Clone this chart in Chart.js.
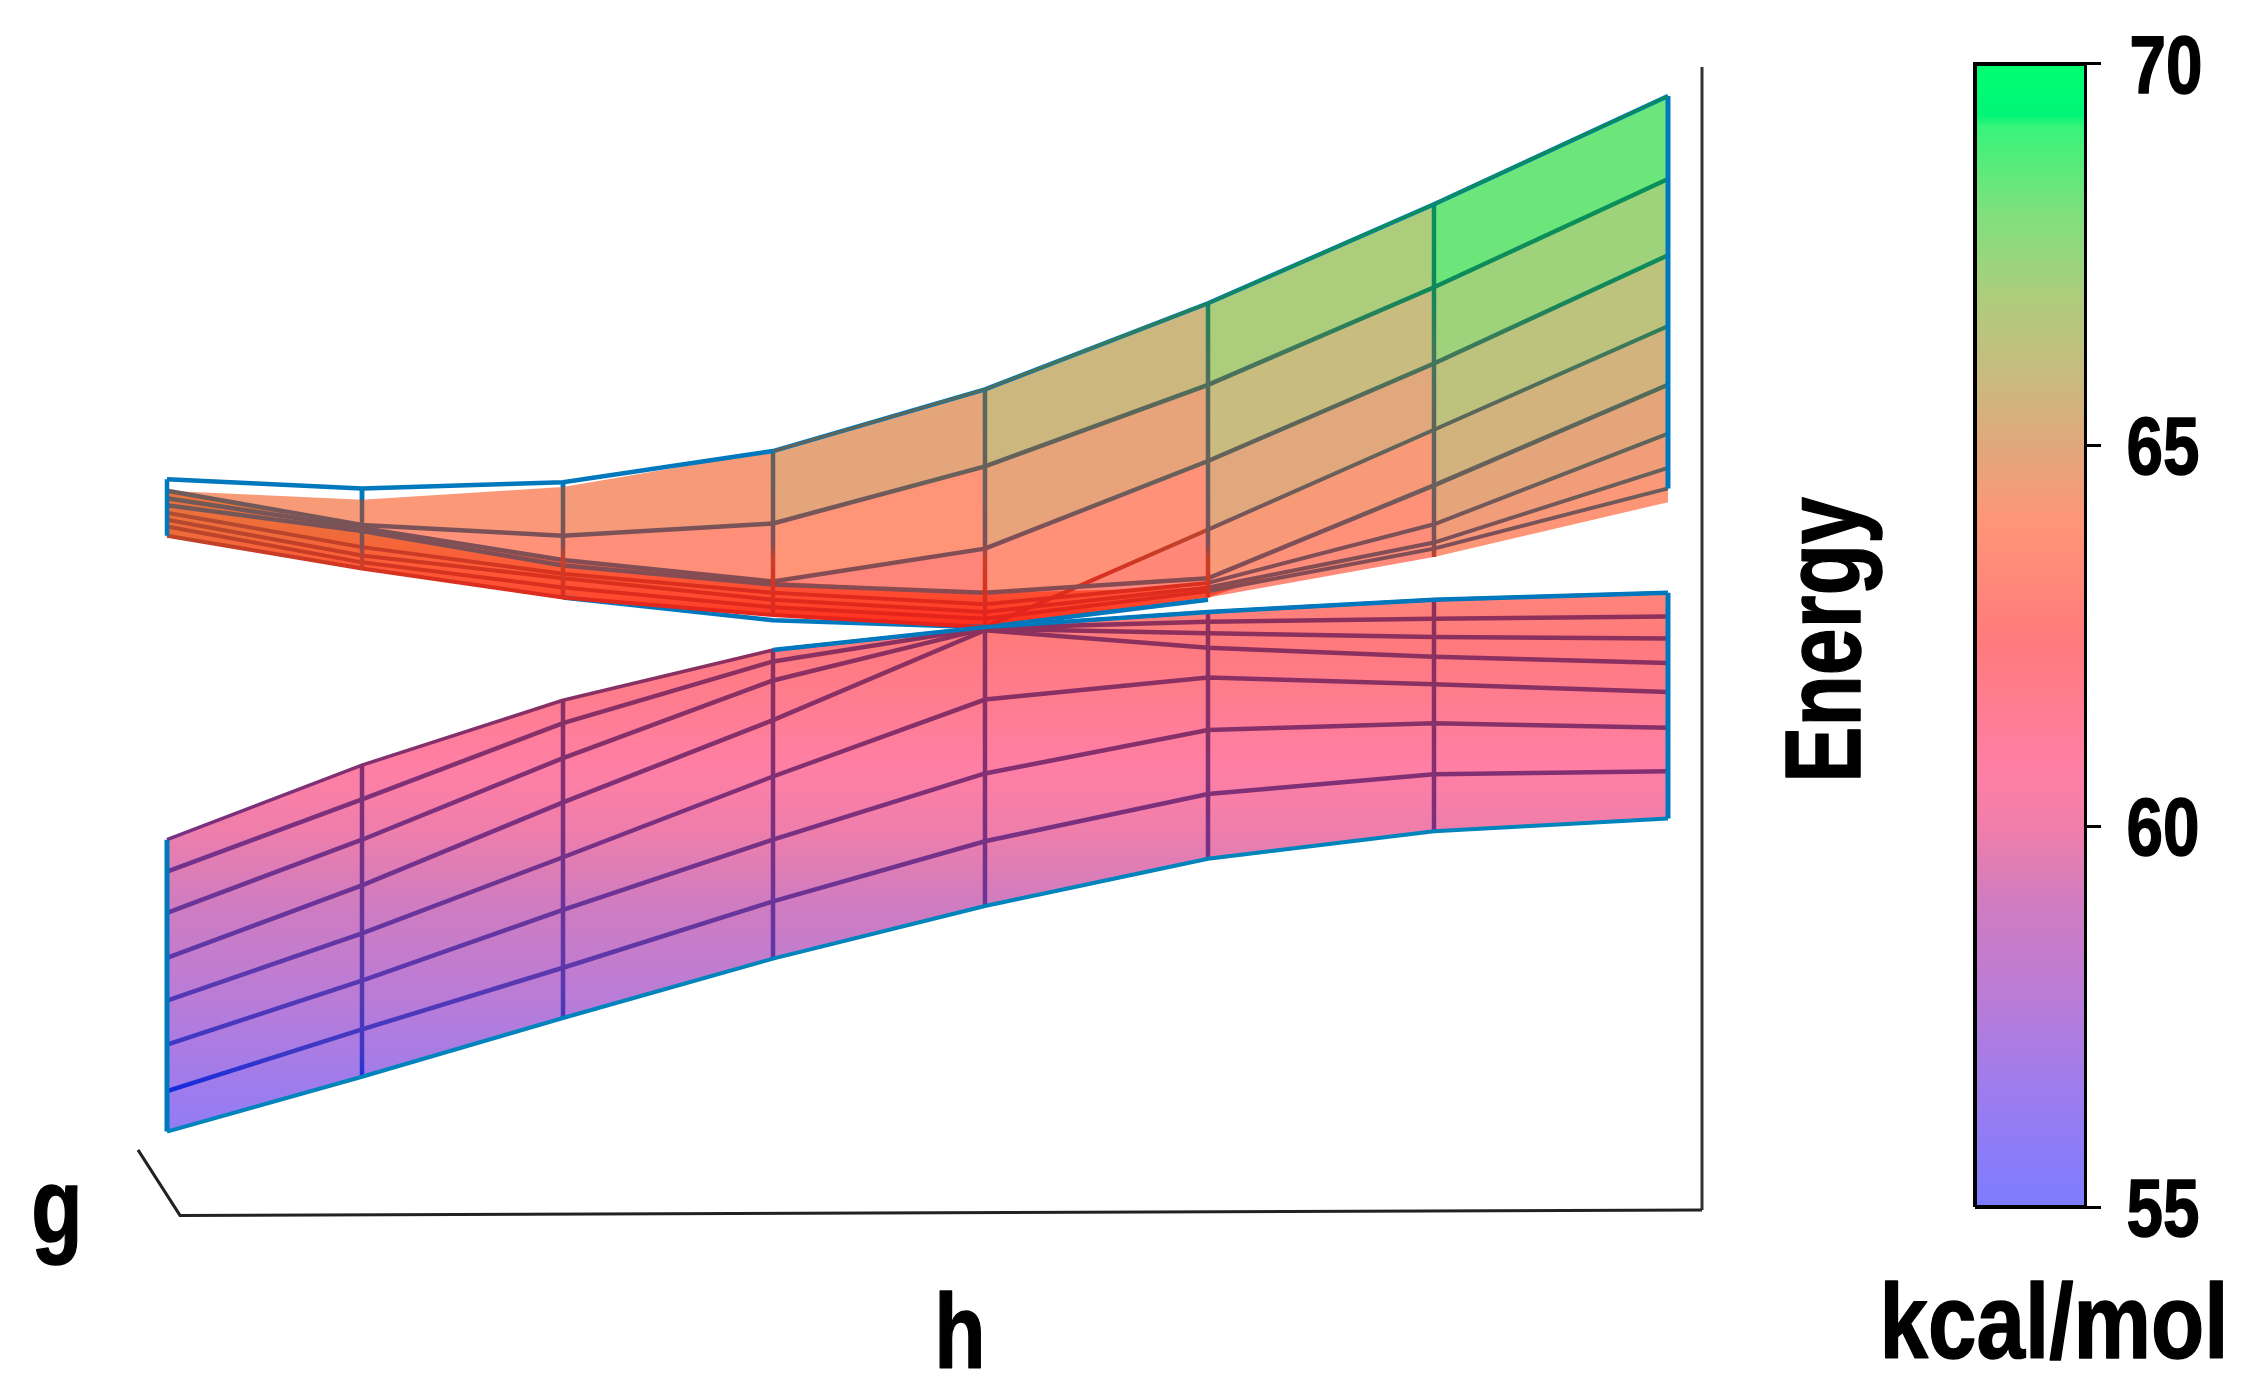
<!DOCTYPE html>
<html>
<head>
<meta charset="utf-8">
<style>html,body{margin:0;padding:0;background:#fff}canvas{display:block}</style>
<script src="https://cdn.jsdelivr.net/npm/chart.js@4"></script>
</head>
<body>
<canvas id="c" width="2248" height="1394"></canvas>
<script>
// --- data (energies in kcal/mol) ---
const hValues = [-0.819,-0.624,-0.423,-0.213,-0.001,0.222,0.448,0.682];
const upperEdge  = [64.55,64.43,64.51,64.92,65.73,66.86,68.16,69.58];
const upperFillTop=[64.40,64.28,64.45,64.92,65.73,66.86,68.16,69.58];
const upperFillBot=[63.81,63.38,63.00,62.77,62.61,63.00,63.53,64.25];
const upperRow1 = [64.40,63.95,63.81,63.97,64.72,65.79,67.07,68.49];
const upperRow2 = [64.30,63.91,63.49,63.21,63.64,64.79,66.07,67.49];
const upperRow3 = [63.81,63.38,63.00,62.77,62.61,63.89,65.20,66.56];
const upperRow4 = [64.21,63.87,63.42,63.17,63.06,63.25,64.47,65.79];
const upperRow5 = [64.11,63.66,63.31,63.06,62.91,63.19,63.96,65.15];
const upperRow6 = [64.02,63.55,63.25,62.97,62.81,63.13,63.72,64.70];
const upperRow7 = [63.93,63.46,63.13,62.87,62.72,63.08,63.64,64.43];
const stripH = [-0.819,-0.624,-0.423,-0.213,-0.001,0.222,0.284];
const stripTop = [64.40,63.91,63.49,63.21,63.06,63.13,63.27];
const stripBot = [63.81,63.38,63.00,62.77,62.61,63.00,63.27];
const seamH = [-0.423,-0.213,-0.001,0.222];
const seam = [63.00,62.70,62.61,62.97];
const lowerRow0 = [59.82,60.80,61.65,62.31,62.61,62.81,62.97,63.06];
const lowerRow1 = [59.40,60.35,61.35,62.16,62.60,62.68,62.72,62.75];
const lowerRow2 = [58.86,59.82,60.89,61.91,62.59,62.53,62.48,62.46];
const lowerRow3 = [58.27,59.22,60.31,61.39,62.57,62.34,62.22,62.14];
const lowerRow4 = [57.71,58.59,59.59,60.65,61.66,61.95,61.86,61.76];
const lowerRow5 = [57.13,57.97,58.90,59.82,60.69,61.26,61.35,61.29];
const lowerRow6 = [56.52,57.33,58.14,59.01,59.80,60.42,60.68,60.72];
const lowerRow7 = [55.99,56.71,57.48,58.26,58.95,59.57,59.93,60.10];
const axisFloorH = [-0.848,-0.806,0.716];
const axisFloorE = [55.75,54.89,54.96];
const axisWallH = [0.716,0.716];
const axisWallE = [54.96,69.96];
const barH = [0.989,1.100];
const tickValues = [55,60,65,70];
const labelTexts = {g:"g", h:"h", energy:"Energy", unit:"kcal/mol"};

// --- colours ---
const surfaceStops = [[70,'#00ff70'],[69.3,'#00f578'],[69.15,'#38f47a'],[68,'#80e07c'],[66.9,'#aecc7c'],[66,'#c6bd7e'],[65,'#e0a87c'],[63.96,'#ff9577'],[62.43,'#ff7a7c'],[60.76,'#ff7fa5'],[60,'#f07eaa'],[59,'#d07cc0'],[57.7,'#b87cd8'],[56.4,'#9a7cf0'],[55,'#7c7cff']];
const stripStops = [[64.5,'#e8783a'],[63.8,'#f06a3a'],[63.4,'#ff5a38'],[63.0,'#ff4a30'],[62.6,'#ff2a18']];
const rowStops = [[70,'#078a58'],[68,'#0a9058'],[67,'#10885a'],[66.2,'#40785a'],[65.5,'#58685a'],[64.5,'#6a5f5a'],[63.8,'#7d5058'],[63,'#8a4a50']];
const redStops = [[64.6,'#a85a35'],[64,'#b24a30'],[63.3,'#d8321f'],[62.6,'#e8201a']];
const vertStops = [[70,'#078a58'],[68,'#0a9058'],[67,'#10885a'],[66.2,'#40785a'],[65.5,'#58685a'],[64.5,'#6a5f5a'],[63.7,'#7d5058'],[63.5,'#c84028'],[62.6,'#e8201a']];
const lowerStops = [[63,'#8f3058'],[61,'#85306c'],[60,'#7a3080'],[58,'#5a38b0'],[57,'#3a38c8'],[56.5,'#1028e0'],[55.9,'#0a30e0']];
const BLUE = '#0078bd';

const cache = {};
function grad(chart, stops){
  const y = chart.scales.y;
  const key = stops[0][1]+stops.length;
  if(cache[key]) return cache[key];
  const hi = stops[0][0], lo = stops[stops.length-1][0];
  const p0 = y ? y.getPixelForValue(hi) : NaN, p1 = y ? y.getPixelForValue(lo) : NaN;
  if(!chart.chartArea || !isFinite(p0) || !isFinite(p1)) return '#888';
  const g = chart.ctx.createLinearGradient(0, p0, 0, p1);
  stops.forEach(s => g.addColorStop((hi-s[0])/(hi-lo), s[1]));
  return cache[key] = g;
}
const G = stops => c => grad(c.chart, stops);
const pts = (xs, ys) => xs.map((x,i) => ({x, y: ys[i]}));

// colour of one surface cell: the colour bar read at the cell's mean energy
function barColour(e){
  for(let k=0;k<surfaceStops.length-1;k++){
    const [a,ca]=surfaceStops[k],[b,cb]=surfaceStops[k+1];
    if(e<=a && e>=b){
      const t=(a-e)/(a-b), rgb=s=>[1,3,5].map(o=>parseInt(s.substr(o,2),16));
      const A=rgb(ca),B=rgb(cb);
      return 'rgb('+A.map((v,i)=>Math.round(v+(B[i]-v)*t)).join(',')+')';
    }
  }
  return surfaceStops[surfaceStops.length-1][1];
}

const datasets = [];
function add(d, order){ d.order = order; d.pointRadius = 0; d.tension = 0; datasets.push(d); return datasets.length-1; }

// upper surface: one band per pair of rows, one flat colour per cell
const upperBands = [upperFillTop,upperRow1,upperRow2,upperRow3,upperRow4,upperRow5,upperRow6,upperRow7,upperFillBot];
const bandStart = datasets.length;
upperBands.forEach((row,k)=>{
  const next = upperBands[k+1];
  add({label:'upper band '+k, data:pts(hValues,row), borderWidth:0,
    fill: next ? {target:bandStart+k+1} : false,
    backgroundColor: next ? barColour((row[0]+next[0])/2) : 'transparent',
    segment: next ? {backgroundColor:c=>{const a=c.p0DataIndex,b=c.p1DataIndex;return barColour((row[a]+row[b]+next[a]+next[b])/4);}} : undefined
  }, 90);
});
let i = datasets.length;
add({label:'strip', data:pts(stripH,stripTop), borderWidth:0, fill:{target:i+1}, backgroundColor:G(stripStops)}, 80);
add({label:'strip base', data:pts(stripH,stripBot), borderWidth:0, fill:false}, 80);
i = datasets.length;
add({label:'lower surface', data:pts(hValues,lowerRow0), borderWidth:0, fill:{target:i+1}, backgroundColor:G(surfaceStops)}, 85);
add({label:'lower base', data:pts(hValues,lowerRow7), borderWidth:0, fill:false}, 85);

// grid rows
const LW = 4.5;
[upperRow1,upperRow2,upperRow4].forEach((r,k)=>add({label:'upper row '+k,data:pts(hValues,r),borderWidth:LW,borderColor:G(rowStops),fill:false},40));
[upperRow3,upperRow5,upperRow6,upperRow7].forEach((r,k)=>add({label:'upper strip row '+k,data:pts(hValues,r),borderWidth:4,borderColor:G(redStops),fill:false,
  segment:{borderColor:c=>c.p0.parsed.x>=hValues[5]-0.001?grad(c.chart,rowStops):grad(c.chart,redStops)}},41));
[lowerRow1,lowerRow2,lowerRow3,lowerRow4,lowerRow5,lowerRow6].forEach((r,k)=>add({label:'lower row '+k,data:pts(hValues,r),borderWidth:LW,borderColor:G(lowerStops),fill:false},40));
add({label:'lower top',data:pts(hValues,lowerRow0),borderWidth:3.5,borderColor:G(lowerStops),fill:false},39);

// columns
hValues.forEach((h,k)=>{
  const upBottom = Math.min(upperRow1[k],upperRow2[k],upperRow3[k],upperRow7[k],upperFillBot[k]);
  const edge = (k===0||k===7) ? BLUE : G(vertStops);
  const bottomU = k===7 ? upperRow7[k] : upBottom;
  const sideEdge = k===0||k===7;
  add({label:'upper col '+k,data:pts([h,h],[upperEdge[k],bottomU]),borderWidth:k===7?5:LW,borderColor:edge,fill:false},30);
  add({label:'lower col '+k,data:pts([h,h],[lowerRow0[k],lowerRow7[k]]),borderWidth:sideEdge?5:LW,borderColor:sideEdge?BLUE:G(lowerStops),fill:false},30);
  if(k===1||k===2) add({label:'col cap '+k,data:pts([h,h],[upperEdge[k],upperFillTop[k]]),borderWidth:LW,borderColor:BLUE,fill:false},29);
});

// silhouette
add({label:'upper ridge',data:pts(hValues.slice(3),upperEdge.slice(3)),borderWidth:3,borderColor:G(rowStops),fill:false},19);
add({label:'upper edge',data:pts(hValues,upperEdge),borderWidth:4.5,borderColor:BLUE,fill:false},20);
add({label:'seam',data:pts(seamH,seam),borderWidth:4.5,borderColor:BLUE,fill:false},60);
add({label:'lower edge right',data:pts(hValues.slice(3),lowerRow0.slice(3)),borderWidth:4.5,borderColor:BLUE,fill:false},20);
add({label:'lower bottom',data:pts(hValues,lowerRow7),borderWidth:4,borderColor:'#0084bc',fill:false},20);

// frame
add({label:'floor',data:pts(axisFloorH,axisFloorE),borderWidth:3,borderColor:'#222',fill:false},10);
add({label:'wall',data:pts(axisWallH,axisWallE),borderWidth:3,borderColor:'#333',fill:false},10);

// colour bar
add({label:'colour bar',data:pts(barH,[70,70]),borderWidth:0,fill:{value:55},backgroundColor:G(surfaceStops)},9);
add({label:'colour bar outline',data:pts([barH[0],barH[0],barH[1],barH[1],barH[0]],[55,70,70,55,55]),borderWidth:4,borderColor:'#000',fill:false,borderJoinStyle:'miter'},8);

const FONT = '"Liberation Sans",Arial,sans-serif';
function squeezed(c, text, x, y, sx, size, angle, heavy){
  c.save();
  c.translate(x, y);
  if(angle) c.rotate(angle);
  c.scale(sx, 1);
  c.font = 'bold '+size+'px '+FONT;
  c.lineWidth = heavy;
  c.strokeStyle = '#000';
  c.lineJoin = 'round';
  c.strokeText(text, 0, 0);
  c.fillText(text, 0, 0);
  c.restore();
}
const textPlugin = {
  id:'texts',
  afterDraw(chart){
    const c = chart.ctx, y = chart.scales.y;
    c.save();
    c.fillStyle = '#000';
    c.textBaseline = 'alphabetic';
    c.textAlign = 'center';
    squeezed(c, labelTexts.g, 57, 1243, 0.8, 105, 0, 1.5);
    squeezed(c, labelTexts.h, 960, 1368, 0.8, 105, 0, 1.5);
    squeezed(c, labelTexts.unit, 2054, 1358, 0.83, 105, 0, 1.5);
    squeezed(c, labelTexts.energy, 1860, 640, 0.78, 108, -Math.PI/2, 1.5);
    tickValues.forEach(v => squeezed(c, String(v), v===70?2166:2163, y.getPixelForValue(v)+29, 0.8, 82, 0, 1.5));
    c.restore();
  }
};

const chart = new Chart(document.getElementById('c'), {
  type:'line',
  data:{datasets},
  plugins:[textPlugin],
  options:{
    responsive:false,
    devicePixelRatio:1,
    animation:false,
    layout:{padding:0},
    plugins:{legend:{display:false},title:{display:false},tooltip:{enabled:false}},
    scales:{
      x:{type:'linear',display:false,min:-0.9835,max:1.101},
      y:{type:'linear',position:'right',min:52.579,max:70.807,
        afterFit(s){s.width=161;s.paddingTop=0;s.paddingBottom=0;},
        afterBuildTicks(s){s.ticks=tickValues.map(v=>({value:v}));},
        border:{display:false},
        grid:{drawOnChartArea:false,drawTicks:true,tickLength:14,tickWidth:3,tickColor:'#000'},
        ticks:{display:false}
      }
    }
  }
});
chart.update();
</script>
</body>
</html>
